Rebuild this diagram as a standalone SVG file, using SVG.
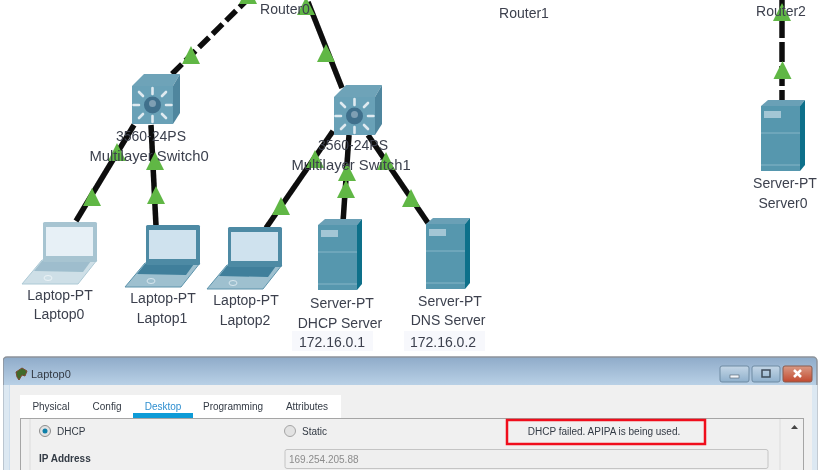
<svg xmlns="http://www.w3.org/2000/svg" width="826" height="470" viewBox="0 0 826 470">
<style>
.l{font-family:"Liberation Sans",Arial,sans-serif;font-size:14px;fill:#3c414e;text-anchor:middle}
.w{font-size:14.800px}
.u{font-family:"Liberation Sans",Arial,sans-serif;font-size:10px;fill:#333a44}
.c{fill:none;stroke:#0a0a0a;stroke-width:5.500}
.d{stroke-dasharray:14 5}
.t{fill:#61b744}
</style>
<defs>
<filter id="soft" x="0" y="0" width="100%" height="100%"><feGaussianBlur stdDeviation="0.55"/></filter>
<linearGradient id="bar" x1="0" y1="0" x2="0" y2="1"><stop offset="0" stop-color="#8fabc9"/><stop offset="0.25" stop-color="#bcd3e8"/></linearGradient>
<linearGradient id="btn" x1="0" y1="0" x2="0" y2="1"><stop offset="0" stop-color="#c4d6e6"/><stop offset="1" stop-color="#8fb0cc"/></linearGradient>
<linearGradient id="cls" x1="0" y1="0" x2="0" y2="1"><stop offset="0" stop-color="#d99a85"/><stop offset="1" stop-color="#c2492f"/></linearGradient>
<polygon id="tri" class="t" points="0,0 9,18 -9,18"/>
<g id="sw">
<polygon points="0,0 12,-12 48,-12 41,0" fill="#6ea3b8"/>
<polygon points="41,0 48,-12 48,27 41,38" fill="#4f869e"/>
<rect x="0" y="0" width="41" height="38" fill="#69a1b7"/>
<g stroke="#dfeaf0" stroke-width="2.600" stroke-linecap="round">
<path d="M20.500 2V8M20.500 30V36M1.500 19H7M34 19H39.500M7 6L11 10M34 6L30 10M7 32L11 28M34 32L30 28"/>
</g>
<circle cx="20.500" cy="19" r="8.500" fill="#3f6f8c"/><circle cx="20.500" cy="17.500" r="3.500" fill="#7f9fb3"/>
</g>
<g id="lap">
<polygon points="-21,62 -1,38 54,38 35,62" fill="#9ec0cf" stroke="#5c93ab" stroke-width="1"/>
<polygon points="-9,49 -1,39 48,39 40,50" fill="#3f7f9b"/>
<rect x="0" y="0" width="54" height="40" rx="1.500" fill="#4e8aa4"/>
<rect x="3" y="5" width="47" height="29" fill="#cfe2ee"/>
<ellipse cx="5" cy="56" rx="4" ry="2.500" fill="none" stroke="#d7e6ee" stroke-width="1"/>
</g>
<g id="srv">
<polygon points="0,0 7,-6 44,-6 39,0" fill="#6ba0b6"/>
<polygon points="39,0 44,-6 44,59 39,65" fill="#0e6f8a"/>
<rect x="0" y="0" width="39" height="65" fill="#5797ae"/>
<rect x="3" y="5" width="17" height="7" fill="#a3c6d5"/>
<path d="M0 27H39M0 59H39" stroke="#85b5c7" stroke-width="1"/>
</g>
</defs>
<rect width="826" height="470" fill="#fff"/>
<g filter="url(#soft)">
<g id="connectors">
<path class="c d" d="M172 74L247 0"/>
<path class="c" d="M134 125L76 221"/>
<path class="c" d="M151 125L156 226"/>
<path class="c" d="M308 2L342 88"/>
<path class="c" d="M333 131L266 228"/>
<path class="c" d="M349 135L343 222"/>
<path class="c" d="M368 135L428 223"/>
<path class="c" d="M782 0V38M782 42V62M782 66V86M782 90V100"/>
<use href="#tri" x="191" y="46"/><use href="#tri" x="248" y="-14"/>
<use href="#tri" x="117" y="143"/><use href="#tri" x="92" y="188"/>
<use href="#tri" x="155" y="152"/><use href="#tri" x="156" y="186"/>
<use href="#tri" x="306" y="-3"/><use href="#tri" x="326" y="44"/>
<use href="#tri" x="315" y="150"/><use href="#tri" x="281" y="197"/>
<use href="#tri" x="347" y="163"/><use href="#tri" x="346" y="180"/>
<use href="#tri" x="386" y="152"/><use href="#tri" x="411" y="189"/>
<use href="#tri" x="782" y="3"/><use href="#tri" x="782.500" y="61"/>
</g>
<g id="router0"><text class="l" x="285" y="14">Router0</text></g>
<g id="router1"><text class="l" x="524" y="18">Router1</text></g>
<g id="router2"><text class="l" x="781" y="16">Router2</text></g>
<g id="switch0"><use href="#sw" x="132" y="86"/><text class="l" x="151" y="141">3560-24PS</text><text class="l w" x="149" y="161">Multilayer Switch0</text></g>
<g id="switch1"><use href="#sw" x="334" y="97"/><text class="l" x="353" y="150">3560-24PS</text><text class="l w" x="351" y="170">Multilayer Switch1</text></g>
<g id="laptop0"><use href="#lap" x="43" y="222" opacity="0.5"/><text class="l" x="60" y="300">Laptop-PT</text><text class="l" x="59" y="319">Laptop0</text></g>
<g id="laptop1"><use href="#lap" x="146" y="225"/><text class="l" x="163" y="303">Laptop-PT</text><text class="l" x="162" y="323">Laptop1</text></g>
<g id="laptop2"><use href="#lap" x="228" y="227"/><text class="l" x="246" y="305">Laptop-PT</text><text class="l" x="245" y="325">Laptop2</text></g>
<g id="dhcp-server"><use href="#srv" x="318" y="225"/><rect x="292" y="331" width="81" height="20" fill="#f7f8fc"/><text class="l" x="342" y="308">Server-PT</text><text class="l" x="340" y="328">DHCP Server</text><text class="l" x="332" y="347">172.16.0.1</text></g>
<g id="dns-server"><use href="#srv" x="426" y="224"/><rect x="404" y="331" width="81" height="20" fill="#f7f8fc"/><text class="l" x="450" y="306">Server-PT</text><text class="l" x="448" y="325">DNS Server</text><text class="l" x="443" y="347">172.16.0.2</text></g>
<g id="server0"><use href="#srv" x="761" y="106"/><text class="l" x="785" y="188">Server-PT</text><text class="l" x="783" y="208">Server0</text></g>
<g id="window">
<rect x="3" y="357" width="814" height="120" rx="4" fill="url(#bar)" stroke="#8d939a" stroke-width="1.500"/>
<path d="M6.500 385V470M814.500 385V470" stroke="#dce8f2" stroke-width="6"/>
<rect x="10" y="385" width="802" height="90" fill="#f0f0f0"/>
<path d="M16 372l6-4 5 3-2 5-3-1-3 5-2-3z" fill="#3f6a2a" stroke="#7a4a30"/>
<text class="u" x="31" y="378" style="font-size:11px">Laptop0</text>
<rect x="720" y="366" width="29" height="16" rx="2" fill="url(#btn)" stroke="#6f8ba3"/>
<rect x="752" y="366" width="28" height="16" rx="2" fill="url(#btn)" stroke="#6f8ba3"/>
<rect x="783" y="366" width="29" height="16" rx="2" fill="url(#cls)" stroke="#8a5a4c"/>
<rect x="730" y="375" width="9" height="3" fill="#f2f6fa" stroke="#4c5c6c" stroke-width=".6"/>
<rect x="762" y="370" width="8" height="7" fill="none" stroke="#3f4c59" stroke-width="1.500"/>
<path d="M794 370l7 7M801 370l-7 7" stroke="#fff" stroke-width="2.500"/>
<rect x="20" y="395" width="321" height="24" fill="#fff"/>
<rect x="20.500" y="418.500" width="783" height="60" fill="#f0f0f0" stroke="#a5a5a5"/>
<path d="M30 419V470M780 419V470" stroke="#dcdcdc"/>
<rect x="133" y="413" width="60" height="5" fill="#0f9bd7"/>
<text class="u" x="51" y="410" text-anchor="middle">Physical</text>
<text class="u" x="107" y="410" text-anchor="middle">Config</text>
<text class="u" x="163" y="410" text-anchor="middle" style="fill:#2f8fd0">Desktop</text>
<text class="u" x="233" y="410" text-anchor="middle">Programming</text>
<text class="u" x="307" y="410" text-anchor="middle">Attributes</text>
<circle cx="45" cy="431" r="5.500" fill="#e2e2e2" stroke="#8d8d8d"/><circle cx="45" cy="431" r="2.500" fill="#0f7fa8"/>
<text class="u" x="57" y="435">DHCP</text>
<circle cx="290" cy="431" r="5.500" fill="#e2e2e2" stroke="#a5a5a5"/>
<text class="u" x="302" y="435">Static</text>
<rect x="507" y="420" width="198" height="24" fill="none" stroke="#f0101a" stroke-width="2.500"/>
<text class="u" x="604" y="435" text-anchor="middle">DHCP failed. APIPA is being used.</text>
<polygon points="791,429 798,429 794.500,425" fill="#444"/>
<text class="u" x="39" y="462" style="font-weight:600">IP Address</text>
<rect x="285" y="449.500" width="483" height="19" rx="2" fill="#efefef" stroke="#c4c4c4"/>
<text class="u" x="289" y="463" style="fill:#8c8c8c">169.254.205.88</text>
</g>
</g>
</svg>
